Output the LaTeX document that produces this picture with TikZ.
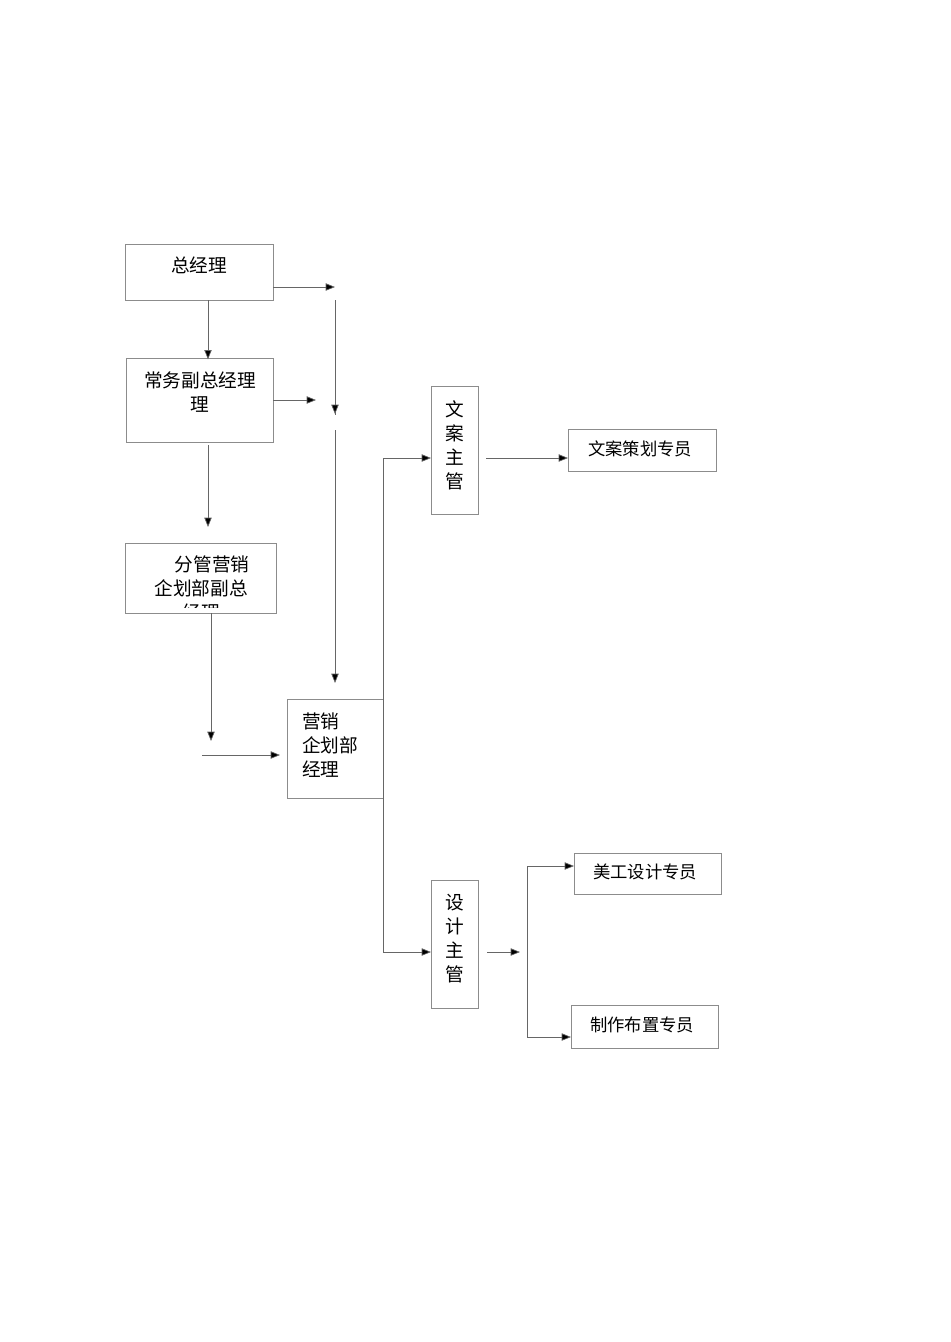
\documentclass[tikz,border=0pt]{standalone}
\usepackage{fontspec}
\newfontfamily\cjk{Noto Sans CJK SC}
\usetikzlibrary{arrows.meta}
\begin{document}
\begin{tikzpicture}[x=0.75pt,y=-0.75pt,
  box/.style={draw=black!45,line width=0.5pt,fill=white},
  ln/.style={draw=black!60,line width=0.5pt},
  ar/.style={ln,-{Triangle[length=7pt,width=5.5pt,fill=black]}},
  tx/.style={font=\cjk\fontsize{14}{18}\selectfont,inner sep=0pt},
  sx/.style={font=\cjk\fontsize{13}{16}\selectfont,inner sep=0pt}]
\useasboundingbox (0,0) rectangle (950,1342);
% boxes
\draw[box] (125,244) rectangle (273,300); \node[tx] (a) at (199,265) {总经理};
\coordinate (aR) at (273,287); \coordinate (aB) at (208,300);
\draw[box] (126,358) rectangle (273,442);
\node[tx,align=center] (b) at (200,392) {常务副总经理\\理};
\coordinate (bT) at (208,358); \coordinate (bR) at (273,400); \coordinate (bB) at (208,445);
\draw[box] (125,543) rectangle (276,613);
\begin{scope}
\clip (125,543) rectangle (276,607);
\node[tx,align=center] (c) at (201,588) {\hspace{1.2em}分管营销\\企划部副总\\经理};
\end{scope}
\coordinate (cT) at (208,543); \coordinate (cB) at (211,613);
\draw[box] (287,699) rectangle (383,798);
\node[tx,align=left,anchor=west] (d) at (302,745) {营销\\企划部\\经理};
\coordinate (dT) at (335,699); \coordinate (dL) at (287,755); \coordinate (dR) at (383,798);
\draw[box] (431,386) rectangle (478,514);
\node[tx,align=center] (e) at (455,445) {文\\案\\主\\管};
\draw[box] (568,429) rectangle (716,471);
\node[sx] (f) at (640,449) {文案策划专员};
\draw[box] (431,880) rectangle (478,1008);
\node[tx,align=center] (g) at (455,939) {设\\计\\主\\管};
\draw[box] (574,853) rectangle (721,894);
\node[sx] (h) at (645,872) {美工设计专员};
\draw[box] (571,1005) rectangle (718,1048);
\node[sx] (i) at (642,1025) {制作布置专员};
% connectors
\coordinate (p1) at (335,287); \coordinate (p2) at (335,300); \coordinate (p3) at (335,414);
\coordinate (p4) at (335,430); \coordinate (p5) at (335,683);
\draw[ar] (aR) -- (p1);
\draw[ln] (p2) -- ([yshift=-1pt]p3); \draw[ar] (p2) -- (p3);
\draw[ar] (p4) -- (p5);
\draw[ar] (aB) -- ([yshift=-1pt]bT);
\coordinate (q1) at (316,400); \draw[ar] (bR) -- (q1);
\coordinate (q2) at (208,527); \draw[ar] (bB) -- (q2);
\coordinate (q3) at (211,741); \draw[ar] (cB) -- (q3);
\coordinate (q4) at (202,755); \coordinate (q5) at (280,755); \draw[ar] (q4) -- (q5);
\coordinate (v1) at (383,458); \coordinate (v2) at (383,952);
\draw[ln] (v1) -- (v2);
\draw[ar] (v1) -- (431,458);
\draw[ar] (v2) -- (431,952);
\draw[ar] (486,458) -- (568,458);
\draw[ar] (487,952) -- (520,952);
\coordinate (w1) at (527,866); \coordinate (w2) at (527,1037);
\draw[ln] (w1) -- (w2);
\draw[ar] (w1) -- (574,866);
\draw[ar] (w2) -- (571,1037);
\end{tikzpicture}
\end{document}
